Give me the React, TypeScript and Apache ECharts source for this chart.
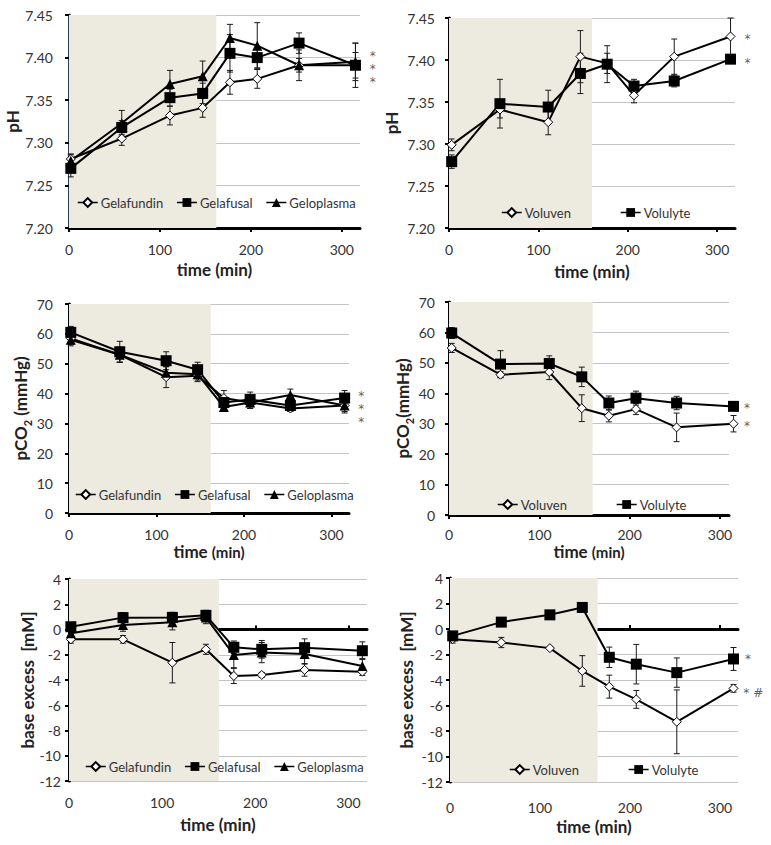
import React, { useEffect, useRef } from 'react';
import * as echarts from 'echarts';

// ---------- data ----------
const TIME_GEL = [2, 58, 111, 147, 177, 207, 253, 315];
const TIME_VOL = [3, 57, 111, 147, 177, 207, 252, 315];
const X_TICKS = [0, 100, 200, 300];

const PH_GELAFUNDIN = [7.281, 7.305, 7.332, 7.341, 7.371, 7.375, 7.391, 7.391];
const PH_GELAFUNDIN_SD = [0.006, 0.008, 0.011, 0.011, 0.014, 0.011, 0.008, 0.015];
const PH_GELAFUSAL = [7.27, 7.318, 7.353, 7.358, 7.405, 7.4, 7.417, 7.391];
const PH_GELAFUSAL_SD = [0.01, 0.008, 0.01, 0.012, 0.022, 0.012, 0.012, 0.026];
const PH_GELOPLASMA = [7.279, 7.323, 7.369, 7.378, 7.423, 7.414, 7.391, 7.395];
const PH_GELOPLASMA_SD = [0.007, 0.015, 0.016, 0.018, 0.016, 0.027, 0.018, 0.022];

const PH_VOLUVEN = [7.299, 7.341, 7.326, 7.404, 7.396, 7.358, 7.404, 7.428];
const PH_VOLUVEN_SD = [0.007, 0.01, 0.015, 0.031, 0.012, 0.009, 0.021, 0.022];
const PH_VOLULYTE = [7.279, 7.348, 7.344, 7.384, 7.395, 7.369, 7.375, 7.401];
const PH_VOLULYTE_SD = [0.008, 0.029, 0.02, 0.024, 0.022, 0.008, 0.007, 0.004];

const CO2_GELAFUNDIN = [58.5, 53, 45.5, 46, 38.5, 37, 35, 36];
const CO2_GELAFUNDIN_SD = [2, 2.5, 3.5, 2, 2.5, 2, 1, 2];
const CO2_GELAFUSAL = [60.5, 54, 51, 48, 37, 38, 36, 38.5];
const CO2_GELAFUSAL_SD = [2, 3.5, 3, 2.5, 2, 2.5, 2, 2.5];
const CO2_GELOPLASMA = [58, 53, 47, 46.5, 35.5, 37, 39.5, 36];
const CO2_GELOPLASMA_SD = [2, 2.5, 2, 2, 1.5, 2, 2, 2.5];

const CO2_VOLUVEN = [54.9, 46.1, 47, 35.1, 32.6, 34.8, 28.8, 30];
const CO2_VOLUVEN_SD = [1.5, 1, 2.5, 4.4, 2, 1.8, 4.7, 2.7];
const CO2_VOLULYTE = [59.8, 49.6, 49.8, 45.4, 36.8, 38.4, 36.8, 35.7];
const CO2_VOLULYTE_SD = [1.8, 4.4, 2.5, 3.2, 2.3, 2.3, 2.2, 1.2];

const BE_GELAFUNDIN = [-0.78, -0.78, -2.63, -1.57, -3.68, -3.6, -3.2, -3.34];
const BE_GELAFUNDIN_SD = [0.3, 0.3, 1.6, 0.4, 0.6, 0.2, 0.5, 0.3];
const BE_GELAFUSAL = [0.22, 0.94, 0.96, 1.12, -1.41, -1.57, -1.44, -1.68];
const BE_GELAFUSAL_SD = [0.3, 0.4, 0.4, 0.4, 0.5, 0.7, 0.7, 0.7];
const BE_GELOPLASMA = [-0.3, 0.36, 0.57, 0.96, -2.02, -1.83, -1.94, -2.89];
const BE_GELOPLASMA_SD = [0.6, 0.5, 0.6, 0.5, 1.0, 0.8, 0.8, 0.6];

const BE_VOLUVEN = [-0.8, -1.06, -1.5, -3.29, -4.52, -5.52, -7.28, -4.66];
const BE_VOLUVEN_SD = [0.3, 0.4, 0.1, 1.2, 0.9, 0.7, 2.5, 0.3];
const BE_VOLULYTE = [-0.54, 0.54, 1.11, 1.69, -2.22, -2.76, -3.42, -2.35];
const BE_VOLULYTE_SD = [0.3, 0.15, 0.1, 0.2, 0.8, 1.55, 1.15, 0.9];

const SHADE_END = [162, 160, 162, 159, 161, 164];

const SIG_PH_GEL = [[334, 7.39, '*\n*\n*']];
const SIG_PH_VOL = [[334, 7.428, '*'], [334, 7.4, '*']];
const SIG_CO2_GEL = [[334, 36, '*\n*\n*']];
const SIG_CO2_VOL = [[330, 36.2, '*'], [330, 30.2, '*']];
const SIG_BE_GEL: any[] = [];
const SIG_BE_VOL = [[331, -2.08, '*'], [337, -4.79, '* #']];

const GEL_NAMES = ['Gelafundin', 'Gelafusal', 'Geloplasma'];
const VOL_NAMES = ['Voluven', 'Volulyte'];

// ---------- styles ----------
const FONT = 'Lato, "Open Sans", sans-serif';
const TXT = '#333';
const SHADE = '#edeae0';
const GRIDLINE = '#c4c4c4';

const MARK: Record<string, any> = {
  Gelafundin: { symbol: 'diamond', size: 9, fill: '#ffffff' },
  Voluven: { symbol: 'diamond', size: 9, fill: '#ffffff' },
  Gelafusal: { symbol: 'rect', size: 11, fill: '#000000' },
  Volulyte: { symbol: 'rect', size: 11, fill: '#000000' },
  Geloplasma: { symbol: 'triangle', size: 10, fill: '#000000' },
};

const PANELS = [
  {
    grid: { left: 69, top: 15, width: 291, height: 213 }, xMax: 320,
    y: { min: 7.2, max: 7.45, interval: 0.05, dec: 2 }, yAxisColor: '#2f3d52',
    yName: 'pH', yGap: 46, yLabelMargin: 16, xLabelMargin: 14, xGap: 33, minSmall: false,
    zeroLine: false, times: TIME_GEL, names: GEL_NAMES,
    means: [PH_GELAFUNDIN, PH_GELAFUSAL, PH_GELOPLASMA], sds: [PH_GELAFUNDIN_SD, PH_GELAFUSAL_SD, PH_GELOPLASMA_SD],
    sig: SIG_PH_GEL, legend: { left: 77, top: 196, itemGap: 13 },
  },
  {
    grid: { left: 449, top: 18, width: 286, height: 210 }, xMax: 320,
    y: { min: 7.2, max: 7.45, interval: 0.05, dec: 2 }, yAxisColor: '#000',
    yName: 'pH', yGap: 49, yLabelMargin: 14, xLabelMargin: 14, xGap: 35, minSmall: false,
    zeroLine: false, times: TIME_VOL, names: VOL_NAMES,
    means: [PH_VOLUVEN, PH_VOLULYTE], sds: [PH_VOLUVEN_SD, PH_VOLULYTE_SD],
    sig: SIG_PH_VOL, legend: { left: 501, top: 206, itemGap: 49 },
  },
  {
    grid: { left: 69, top: 304, width: 280, height: 209 }, xMax: 320,
    y: { min: 0, max: 70, interval: 10, dec: 0 }, yAxisColor: '#000',
    yName: '{n|pCO}{s|2}{n| (mmHg)}', yGap: 26, yLabelMargin: 16, xLabelMargin: 14, xGap: 30, minSmall: true,
    zeroLine: false, times: TIME_GEL, names: GEL_NAMES,
    means: [CO2_GELAFUNDIN, CO2_GELAFUSAL, CO2_GELOPLASMA], sds: [CO2_GELAFUNDIN_SD, CO2_GELAFUSAL_SD, CO2_GELOPLASMA_SD],
    sig: SIG_CO2_GEL, legend: { left: 75, top: 488, itemGap: 13 },
  },
  {
    grid: { left: 449, top: 302, width: 280, height: 213 }, xMax: 310,
    y: { min: 0, max: 70, interval: 10, dec: 0 }, yAxisColor: '#000',
    yName: '{n|pCO}{s|2}{n|(mmHg)}', yGap: 22, yLabelMargin: 14, xLabelMargin: 12, xGap: 28, minSmall: true,
    zeroLine: false, times: TIME_VOL, names: VOL_NAMES,
    means: [CO2_VOLUVEN, CO2_VOLULYTE], sds: [CO2_VOLUVEN_SD, CO2_VOLULYTE_SD],
    sig: SIG_CO2_VOL, legend: { left: 497, top: 498, itemGap: 49 },
  },
  {
    grid: { left: 69, top: 579, width: 298, height: 202 }, xMax: 320,
    y: { min: -12, max: 4, interval: 2, dec: 0 }, yAxisColor: '#000',
    yName: 'base excess  [mM]', yGap: 32, yLabelMargin: 8, xLabelMargin: 14, xGap: 35, minSmall: false,
    zeroLine: true, times: TIME_GEL, names: GEL_NAMES,
    means: [BE_GELAFUNDIN, BE_GELAFUSAL, BE_GELOPLASMA], sds: [BE_GELAFUNDIN_SD, BE_GELAFUSAL_SD, BE_GELOPLASMA_SD],
    sig: SIG_BE_GEL, legend: { left: 85, top: 760, itemGap: 13 },
  },
  {
    grid: { left: 450, top: 578, width: 288, height: 204 }, xMax: 320,
    y: { min: -12, max: 4, interval: 2, dec: 0 }, yAxisColor: '#000',
    yName: 'base excess  [mM]', yGap: 35, yLabelMargin: 7, xLabelMargin: 18, xGap: 36, minSmall: false,
    zeroLine: true, times: TIME_VOL, names: VOL_NAMES,
    means: [BE_VOLUVEN, BE_VOLULYTE], sds: [BE_VOLUVEN_SD, BE_VOLULYTE_SD],
    sig: SIG_BE_VOL, legend: { left: 509, top: 763, itemGap: 49 },
  },
];

function errorRender(params: any, api: any) {
  const x = api.value(0);
  const lo = api.coord([x, api.value(1)]);
  const hi = api.coord([x, api.value(2)]);
  const w = 3;
  const st = { stroke: '#1a1a1a', lineWidth: 1 };
  return {
    type: 'group',
    children: [
      { type: 'line', shape: { x1: lo[0], y1: lo[1], x2: hi[0], y2: hi[1] }, style: st },
      { type: 'line', shape: { x1: lo[0] - w, y1: lo[1], x2: lo[0] + w, y2: lo[1] }, style: st },
      { type: 'line', shape: { x1: hi[0] - w, y1: hi[1], x2: hi[0] + w, y2: hi[1] }, style: st },
    ],
  };
}

function buildOption() {
  const grid: any[] = [];
  const xAxis: any[] = [];
  const yAxis: any[] = [];
  const series: any[] = [];
  const legend: any[] = [];
  const extraX: any[] = [];

  PANELS.forEach((p, i) => {
    grid.push({ ...p.grid, containLabel: false });
    const axisLineStyle = { color: '#000', width: 3 };
    xAxis.push({
      gridIndex: i, type: 'value', min: 0, max: p.xMax,
      axisLine: { show: !p.zeroLine, onZero: false, lineStyle: axisLineStyle },
      axisTick: { show: !p.zeroLine, customValues: X_TICKS, length: 4, lineStyle: { color: '#000', width: 2 } },
      axisLabel: { customValues: X_TICKS, fontFamily: FONT, fontSize: 14, color: TXT, margin: p.xLabelMargin },
      splitLine: { show: false },
      name: p.minSmall ? '{t|time }{m|(min)}' : 'time (min)',
      nameLocation: 'middle', nameGap: p.xGap,
      nameTextStyle: {
        fontFamily: FONT, fontSize: 17, fontWeight: 'bold', color: '#222',
        rich: {
          t: { fontFamily: FONT, fontSize: 17, fontWeight: 'bold', color: '#222' },
          m: { fontFamily: FONT, fontSize: 15, fontWeight: 'bold', color: '#222' },
        },
      },
    });
    if (p.zeroLine) {
      extraX.push({
        gridIndex: i, type: 'value', min: 0, max: p.xMax,
        axisLine: { show: true, onZero: true, lineStyle: axisLineStyle },
        axisTick: { show: true, customValues: X_TICKS, length: 4, lineStyle: { color: '#000', width: 2 } },
        axisLabel: { show: false },
        splitLine: { show: false },
      });
    }
    yAxis.push({
      gridIndex: i, type: 'value', min: p.y.min, max: p.y.max, interval: p.y.interval,
      axisLine: { show: true, onZero: false, lineStyle: { color: p.yAxisColor, width: 3 } },
      axisTick: { show: true, length: 4, lineStyle: { color: '#000', width: 2 } },
      axisLabel: {
        fontFamily: FONT, fontSize: 14, color: TXT, margin: p.yLabelMargin,
        formatter: (v: number) => v.toFixed(p.y.dec),
      },
      splitLine: { show: true, lineStyle: { color: GRIDLINE, width: 1 } },
      name: p.yName, nameLocation: 'middle', nameGap: p.yGap,
      nameTextStyle: {
        fontFamily: FONT, fontSize: 17, fontWeight: 'bold', color: '#222',
        rich: {
          n: { fontFamily: FONT, fontSize: 17, fontWeight: 'bold', color: '#222', lineHeight: 24 },
          s: { fontFamily: FONT, fontSize: 11, fontWeight: 'bold', color: '#222', lineHeight: 24, verticalAlign: 'bottom' },
        },
      },
    });

    // shading carrier
    series.push({
      type: 'line', name: 'shade' + i, xAxisIndex: i, yAxisIndex: i, data: [],
      markArea: {
        silent: true, itemStyle: { color: SHADE },
        data: [[{ xAxis: 0 }, { xAxis: SHADE_END[i] }]],
      },
    });

    // error bars
    p.names.forEach((nm, k) => {
      series.push({
        type: 'custom', name: 'err-' + nm + i, xAxisIndex: i, yAxisIndex: i,
        renderItem: errorRender, clip: false,
        encode: { x: 0, y: [1, 2] },
        data: p.times.map((t, j) => [t, p.means[k][j] - p.sds[k][j], p.means[k][j] + p.sds[k][j]]),
      });
    });

    // lines
    p.names.forEach((nm, k) => {
      const m = MARK[nm];
      series.push({
        type: 'line', name: nm, xAxisIndex: i, yAxisIndex: i, clip: false,
        symbol: m.symbol, symbolSize: m.size, showAllSymbol: true,
        itemStyle: { color: m.fill, borderColor: '#000', borderWidth: m.fill === '#ffffff' ? 1 : 0 },
        lineStyle: { color: '#000', width: 2 },
        data: p.times.map((t, j) => [t, p.means[k][j]]),
      });
    });

    // significance marks
    if (p.sig.length) {
      series.push({
        type: 'scatter', name: 'sig' + i, xAxisIndex: i, yAxisIndex: i, clip: false,
        symbolSize: 1, itemStyle: { color: 'rgba(0,0,0,0)' }, silent: true,
        label: {
          show: true, position: 'inside', offset: [0, 3],
          formatter: (q: any) => q.value[2],
          fontFamily: '"DejaVu Sans", sans-serif', fontSize: 12, lineHeight: 13, color: '#333',
        },
        data: p.sig,
      });
    }

    legend.push({
      data: p.names, left: p.legend.left, top: p.legend.top, itemGap: p.legend.itemGap,
      orient: 'horizontal', selectedMode: false, itemWidth: 20, itemHeight: 11, padding: 0,
      lineStyle: { width: 1.5 },
      textStyle: { fontFamily: FONT, fontSize: 13, color: TXT, padding: [0, 0, 0, -2] },
    });
  });

  return {
    animation: false,
    backgroundColor: '#fff',
    grid,
    xAxis: xAxis.concat(extraX),
    yAxis,
    legend,
    series,
  };
}

export default function App() {
  const ref = useRef<HTMLDivElement>(null);
  useEffect(() => {
    document.body.style.margin = '0';
    if (!ref.current) return;
    const chart = echarts.init(ref.current, undefined, { renderer: 'svg' });
    chart.setOption(buildOption() as any);
    return () => chart.dispose();
  }, []);
  return <div ref={ref} style={{ width: 771, height: 845 }} />;
}
